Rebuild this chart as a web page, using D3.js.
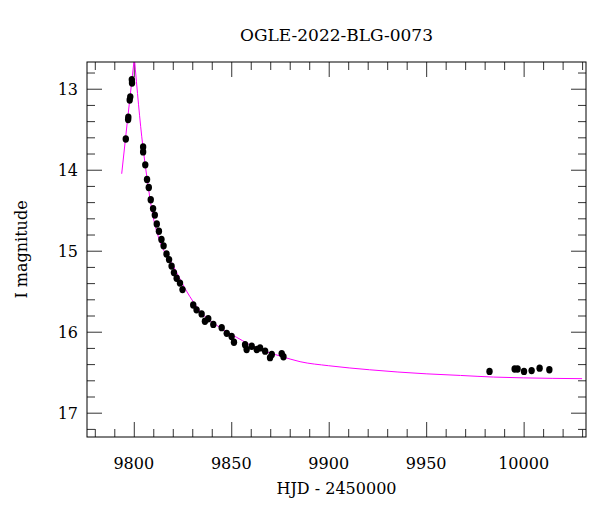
<!DOCTYPE html>
<html>
<head>
<meta charset="utf-8">
<style>
  body { margin: 0; background: #fff; }
  text { font-family: "DejaVu Serif", serif; fill: #000; }
</style>
</head>
<body>
<div id="chart"></div>
<script src="https://cdn.jsdelivr.net/npm/d3@7"></script>
<script>
// observed points: HJD - 2450000, I mag
var obsDay = [9795.9, 9797.1, 9797.2, 9797.9, 9798.2, 9799.0, 9799.1,
  9804.8, 9804.8, 9805.9, 9806.8, 9807.7, 9808.7, 9809.9, 9810.8, 9811.8, 9812.9,
  9814.2, 9815.3, 9816.8, 9818.1, 9819.4, 9820.6, 9822.0, 9823.7, 9825.0,
  9830.5, 9832.2, 9834.8, 9836.5, 9838.2, 9840.8, 9845.1, 9847.7, 9850.2, 9851.4,
  9857.1, 9857.9, 9860.5, 9863.1, 9864.8, 9867.4, 9869.9, 9870.8, 9875.9, 9876.8,
  9982.5, 9995.4, 9996.9, 10000.2, 10004.1, 10008.2, 10013.2]
var obsMag = [13.62, 13.38, 13.35, 13.14, 13.10, 12.89, 12.93,
  13.72, 13.78, 13.94, 14.12, 14.22, 14.37, 14.48, 14.56, 14.67, 14.76,
  14.86, 14.94, 15.04, 15.11, 15.19, 15.27, 15.34, 15.40, 15.48,
  15.67, 15.73, 15.78, 15.87, 15.84, 15.91, 15.95, 16.02, 16.06, 16.13,
  16.16, 16.22, 16.18, 16.22, 16.20, 16.24, 16.32, 16.28, 16.27, 16.31,
  16.49, 16.46, 16.46, 16.49, 16.48, 16.45, 16.47]

// model curve: rising side, then falling side from the peak
var riseDay = [9793.8, 9796.9, 9800.3]
var riseMag = [14.05, 13.36, 12.62]
var fallDay = [9800.3, 9804.6, 9805.7, 9807.4, 9809.9, 9812.5, 9815.9,
  9818.5, 9822.0, 9827.1, 9830.5, 9835.6, 9842.5, 9852.8, 9864.8,
  9875.1, 9885.3, 9900, 9921, 9950, 9967.6, 9984.6, 10000, 10030]
var fallMag = [12.62, 13.70, 13.91, 14.21, 14.58, 14.82, 15.02,
  15.11, 15.27, 15.50, 15.63, 15.79, 15.92, 16.07, 16.22,
  16.30, 16.37, 16.42, 16.47, 16.52, 16.54, 16.56, 16.57, 16.58]

var xTicks = [9800, 9850, 9900, 9950, 10000]
var yTicks = [13, 14, 15, 16, 17]

var W = 600, H = 512
var margin = {top: 62, right: 14, bottom: 75, left: 87}
var width = W - margin.left - margin.right
var height = H - margin.top - margin.bottom

var svg = d3.select("#chart").append("svg")
  .attr("width", W).attr("height", H)

var g = svg.append("g")
  .attr("transform", "translate(" + margin.left + "," + margin.top + ")")

var x = d3.scaleLinear().domain([9776, 10032]).range([0, width])
var y = d3.scaleLinear().domain([12.67, 17.3]).range([0, height])

g.append("clipPath").attr("id", "clip")
  .append("rect").attr("width", width).attr("height", height)

var xMinor = d3.range(9780, 10031, 10).filter(d => d % 50 != 0)
var yMinor = d3.range(12.8, 17.3, 0.2).filter(d => Math.abs(d - Math.round(d)) > 0.01)

function ticks(axis, vals, len) {
  return axis.tickValues(vals).tickSize(-len).tickFormat("")
}
var tickCol = "#333"
function styleAx(sel) {
  sel.select(".domain").remove()
  sel.selectAll("line").attr("stroke", tickCol).attr("stroke-width", 1)
}

// ticks inward on all four sides
g.append("g").attr("transform", "translate(0," + height + ")")
  .call(ticks(d3.axisBottom(x), xMinor, 8)).call(styleAx)
g.append("g").attr("transform", "translate(0," + height + ")")
  .call(ticks(d3.axisBottom(x), xTicks, 15)).call(styleAx)
g.append("g").call(ticks(d3.axisTop(x), xMinor, 8)).call(styleAx)
g.append("g").call(ticks(d3.axisTop(x), xTicks, 15)).call(styleAx)
g.append("g").call(ticks(d3.axisLeft(y), yMinor, 8)).call(styleAx)
g.append("g").call(ticks(d3.axisLeft(y), yTicks, 15)).call(styleAx)
g.append("g").attr("transform", "translate(" + width + ",0)")
  .call(ticks(d3.axisRight(y), yMinor, 8)).call(styleAx)
g.append("g").attr("transform", "translate(" + width + ",0)")
  .call(ticks(d3.axisRight(y), yTicks, 15)).call(styleAx)

// tick labels
g.selectAll(".xl").data(xTicks).enter().append("text")
  .attr("x", d => x(d)).attr("y", height + 32)
  .attr("text-anchor", "middle").style("font-size", "16px")
  .text(d => d)
g.selectAll(".yl").data(yTicks).enter().append("text")
  .attr("x", -9).attr("y", d => y(d) + 6)
  .attr("text-anchor", "end").style("font-size", "16px")
  .text(d => d)

// model
var model = g.append("g").attr("clip-path", "url(#clip)")
model.append("path").datum(riseMag)
  .attr("d", d3.line().x((d, i) => x(riseDay[i])).y(d => y(d)))
  .attr("fill", "none").attr("stroke", "#ff00ff").attr("stroke-width", 1)
model.append("path").datum(fallMag)
  .attr("d", d3.line().curve(d3.curveMonotoneX).x((d, i) => x(fallDay[i])).y(d => y(d)))
  .attr("fill", "none").attr("stroke", "#ff00ff").attr("stroke-width", 1)

// data
g.selectAll(".pt").data(obsMag).enter().append("ellipse")
  .attr("cx", (d, i) => x(obsDay[i])).attr("cy", d => y(d))
  .attr("rx", 3.2).attr("ry", 3.7)
  .attr("fill", "#000")

// frame
g.append("rect").attr("width", width).attr("height", height)
  .attr("fill", "none").attr("stroke", "#000").attr("stroke-width", 1)

// labels
svg.append("text").attr("x", margin.left + width / 2).attr("y", 41)
  .attr("text-anchor", "middle").style("font-size", "17px")
  .text("OGLE-2022-BLG-0073")
svg.append("text").attr("x", margin.left + width / 2).attr("y", 494)
  .attr("text-anchor", "middle").style("font-size", "16px")
  .text("HJD - 2450000")
svg.append("text")
  .attr("transform", "translate(27," + (margin.top + height / 2) + ") rotate(-90)")
  .attr("text-anchor", "middle").style("font-size", "16px")
  .text("I magnitude")
</script>
</body>
</html>
